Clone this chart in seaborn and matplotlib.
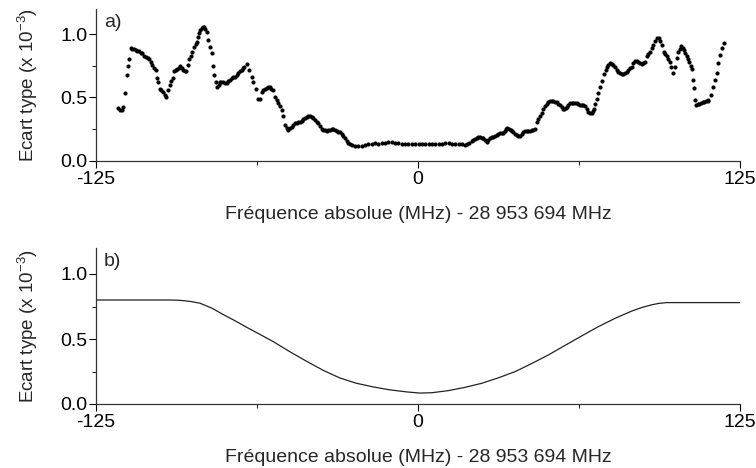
import numpy as np
import pandas as pd
import matplotlib
matplotlib.use("Agg")
import matplotlib.pyplot as plt
import seaborn as sns
from matplotlib.ticker import MultipleLocator

# ---------------- data ----------------
# panel a) measured standard deviation (x 1e-3) vs absolute frequency offset (MHz)
freq_a = [
    -116.3, -115.6, -115.0, -114.4, -113.7, -113.1, -112.7, -112.1, -111.5,
    -110.9, -110.2, -109.5, -108.9, -108.2, -107.6, -107.0, -106.3, -105.7, -105.0,
    -104.4, -103.8, -103.1, -102.5, -101.9, -101.2, -100.8, -100.2, -99.6, -98.9,
    -98.3, -97.8, -96.9, -96.3, -95.7, -95.2, -94.7, -94.1, -93.5, -92.9, -92.4,
    -91.7, -91.1, -90.5, -90.1, -89.4, -88.8, -88.2, -87.6, -86.8, -86.3, -85.9,
    -85.4, -85.0, -84.5, -84.0, -83.5, -83.0, -82.5, -82.0, -81.4, -80.7, -80.1,
    -79.7, -79.2, -78.4, -77.9, -77.4, -76.9, -76.3, -75.6, -74.9, -74.3, -73.6,
    -73.0, -72.3, -71.7, -71.0, -70.4, -69.7, -69.1, -68.5, -67.9, -67.5, -66.5,
    -65.5, -64.6, -63.9, -62.9, -62.0, -61.3, -60.7, -60.1, -59.4, -58.8, -58.1,
    -57.5, -56.9, -56.4, -55.5, -54.8, -54.2, -53.5, -52.9, -52.3, -51.6, -50.9,
    -50.3, -49.6, -49.0, -48.4, -47.7, -47.1, -46.4, -45.8, -45.2, -44.5, -43.9,
    -43.2, -42.6, -41.9, -41.3, -40.6, -40.0, -39.3, -38.7, -38.0, -37.4, -36.7,
    -36.1, -35.4, -34.8, -34.1, -33.5, -32.9, -32.2, -31.6, -30.9, -30.3, -29.6,
    -29.0, -28.4, -27.7, -27.0, -26.4, -25.7, -24.4, -23.2, -21.9, -20.6, -19.3,
    -18.0, -16.7, -15.4, -14.1, -12.8, -11.5, -10.2, -8.9, -7.6, -6.3, -5.0, -3.7,
    -2.4, -1.1, 0.2, 1.5, 2.8, 4.1, 5.4, 6.7, 8.0, 9.3, 10.6, 11.9, 13.2, 14.5,
    15.8, 17.1, 18.4, 19.1, 19.8, 20.8, 21.5, 22.1, 22.8, 23.4, 24.1, 24.7, 25.4,
    26.0, 26.7, 27.3, 28.0, 28.6, 29.3, 29.9, 30.6, 31.2, 31.8, 32.5, 33.1, 33.7,
    34.2, 34.7, 35.4, 36.0, 36.4, 37.0, 37.7, 38.3, 39.0, 39.6, 40.2, 40.9, 41.5,
    42.2, 42.8, 43.5, 44.1, 44.8, 45.4, 46.1, 46.7, 47.4, 48.0, 48.6, 49.3, 50.0,
    50.6, 51.2, 51.9, 52.5, 53.2, 53.8, 54.5, 55.1, 55.8, 56.4, 56.8, 57.3, 57.7,
    58.4, 59.0, 59.7, 60.3, 61.0, 61.6, 62.3, 62.9, 63.6, 64.2, 64.8, 65.5, 66.1,
    66.8, 67.4, 67.9, 68.3, 68.9, 69.4, 70.0, 70.6, 71.3, 72.2, 72.8, 73.3, 73.9,
    74.5, 75.2, 75.8, 76.5, 77.1, 77.8, 78.4, 79.1, 79.7, 80.4, 81.0, 81.6, 82.3,
    82.9, 83.6, 84.2, 84.9, 85.5, 86.2, 86.8, 87.5, 88.1, 88.8, 89.4, 90.1, 90.8,
    91.4, 92.1, 92.7, 93.4, 94.0, 94.6, 95.5, 96.0, 96.6, 97.2, 97.8, 98.4, 99.1,
    99.8, 100.4, 101.1, 101.6, 102.1, 102.7, 103.3, 103.8, 104.3, 104.8, 105.3,
    105.8, 106.3, 106.7, 107.1, 107.5, 107.9, 108.6, 109.2, 109.9, 110.5, 111.1,
    111.8, 112.4, 112.7, 113.6, 114.6, 115.3, 116.0, 116.6, 117.3, 117.9, 118.6,
]
sigma_a = [
    0.414, 0.400, 0.400, 0.427, 0.533, 0.680, 0.745, 0.800, 0.890,
    0.885, 0.880, 0.875, 0.870, 0.865, 0.855, 0.850, 0.830, 0.820, 0.810,
    0.800, 0.780, 0.760, 0.735, 0.715, 0.650, 0.625, 0.570, 0.560, 0.546,
    0.520, 0.500, 0.560, 0.600, 0.630, 0.650, 0.705, 0.715, 0.725, 0.735, 0.745,
    0.735, 0.720, 0.710, 0.705, 0.760, 0.800, 0.830, 0.860, 0.900, 0.925, 0.940,
    0.980, 1.010, 1.030, 1.050, 1.055, 1.060, 1.040, 1.020, 0.956, 0.900, 0.850,
    0.745, 0.680, 0.625, 0.580, 0.600, 0.620, 0.625, 0.620, 0.610, 0.615, 0.630,
    0.640, 0.650, 0.660, 0.665, 0.680, 0.695, 0.705, 0.720, 0.730, 0.740, 0.766,
    0.720, 0.665, 0.625, 0.570, 0.486, 0.490, 0.546, 0.560, 0.570, 0.575, 0.580,
    0.580, 0.570, 0.560, 0.506, 0.480, 0.454, 0.430, 0.400, 0.353, 0.280, 0.260,
    0.242, 0.255, 0.268, 0.280, 0.295, 0.300, 0.305, 0.308, 0.315, 0.325, 0.335,
    0.345, 0.353, 0.350, 0.342, 0.335, 0.320, 0.305, 0.295, 0.270, 0.248, 0.242,
    0.240, 0.237, 0.240, 0.245, 0.248, 0.248, 0.240, 0.235, 0.229, 0.225, 0.210,
    0.194, 0.175, 0.157, 0.140, 0.128, 0.123, 0.118, 0.115, 0.117, 0.122, 0.127,
    0.132, 0.135, 0.134, 0.136, 0.139, 0.145, 0.146, 0.140, 0.136, 0.132, 0.128, 0.127,
    0.131, 0.133, 0.131, 0.132, 0.130, 0.131, 0.131, 0.130, 0.131, 0.133, 0.139, 0.140, 0.133, 0.131,
    0.132, 0.128, 0.124, 0.128, 0.140, 0.157, 0.165, 0.172, 0.180, 0.184, 0.185, 0.182, 0.176,
    0.165, 0.149, 0.160, 0.175, 0.184, 0.190, 0.198, 0.205, 0.210, 0.215, 0.218, 0.220, 0.235,
    0.250, 0.255, 0.250, 0.240, 0.237, 0.225, 0.212, 0.202, 0.197, 0.194, 0.210, 0.229, 0.232,
    0.234, 0.235, 0.237, 0.240, 0.244, 0.248, 0.308, 0.330, 0.353, 0.380, 0.406, 0.430, 0.448,
    0.462, 0.475, 0.475, 0.470, 0.467, 0.460, 0.450, 0.440, 0.425, 0.410, 0.406, 0.415, 0.427,
    0.440, 0.452, 0.459, 0.458, 0.456, 0.454, 0.450, 0.440, 0.440, 0.440, 0.430, 0.405, 0.387,
    0.380, 0.375, 0.390, 0.406, 0.450, 0.486, 0.533, 0.586, 0.633, 0.686, 0.715, 0.740, 0.755,
    0.771, 0.765, 0.758, 0.740, 0.718, 0.700, 0.690, 0.686, 0.688, 0.692, 0.700, 0.713, 0.730,
    0.744, 0.770, 0.792, 0.790, 0.784, 0.775, 0.766, 0.772, 0.784, 0.824, 0.845, 0.863, 0.890,
    0.917, 0.945, 0.970, 0.970, 0.945, 0.917, 0.863, 0.845, 0.824, 0.800, 0.784, 0.740, 0.692,
    0.744, 0.811, 0.863, 0.885, 0.903, 0.890, 0.877, 0.850, 0.824, 0.800, 0.784,
    0.750, 0.724, 0.639, 0.573, 0.480, 0.440, 0.445, 0.450, 0.455, 0.460, 0.465,
    0.470, 0.475, 0.480, 0.520, 0.580, 0.639, 0.692, 0.771, 0.837, 0.890, 0.930,
]

# panel b) model standard deviation profile
freq_b = [-125, -110, -97, -94, -91, -88, -84.6, -80.0, -75.6, -71.0, -66.5, -61.5, -56.2,
          -50.0, -43.2, -36.5, -30.3, -24.0, -17.3, -11.0, -4.4, 0.8, 5.5, 11.8,
          18.0, 24.7, 31.0, 37.7, 44.0, 50.6, 57.0, 63.5, 70.0, 76.5, 83.0, 87.0, 90.5,
          93.5, 96.5, 110, 125]
sigma_b = [0.800, 0.800, 0.800, 0.799, 0.795, 0.788, 0.775, 0.737, 0.688, 0.640, 0.590, 0.537, 0.480,
           0.405, 0.328, 0.256, 0.200, 0.160, 0.131, 0.109, 0.093, 0.084, 0.087, 0.103,
           0.127, 0.159, 0.200, 0.249, 0.310, 0.377, 0.450, 0.523, 0.595, 0.659, 0.715, 0.743, 0.762,
           0.774, 0.780, 0.780, 0.780]

xticks = [-125, 0, 125]
xtick_labels = ["-125", "0", "125"]
yticks = [0.0, 0.5, 1.0]
ytick_labels = ["0.0", "0.5", "1.0"]
xlabel = "Fréquence absolue (MHz) - 28 953 694 MHz"
ylabel = "Ecart type (x 10$^{-3}$)"
panel_labels = ["a)", "b)"]

# ---------------- figure ----------------
sns.set_theme(style="ticks")
plt.rcParams["font.family"] = ["Liberation Sans", "DejaVu Sans"]
plt.rcParams["mathtext.default"] = "regular"

W, H = 756, 468
fig = plt.figure(figsize=(W / 100, H / 100), dpi=100)
ax_a = fig.add_axes([96 / W, 1 - 160.5 / H, 644 / W, 151.5 / H])
ax_b = fig.add_axes([96 / W, 1 - 404 / H, 644 / W, 156 / H])

df_a = pd.DataFrame({"f": freq_a, "s": sigma_a})
df_b = pd.DataFrame({"f": freq_b, "s": sigma_b})

sns.scatterplot(data=df_a, x="f", y="s", ax=ax_a, color="black", s=9,
                linewidth=0, marker="o", legend=False)
sns.lineplot(data=df_b, x="f", y="s", ax=ax_b, color="#222222", linewidth=0.9,
             legend=False)

for ax, lab in zip([ax_a, ax_b], panel_labels):
    ax.set_xlim(-125, 125)
    ax.set_ylim(0, 1.2)
    ax.set_xticks(xticks)
    ax.set_xticklabels(xtick_labels)
    ax.set_yticks(yticks)
    ax.set_yticklabels(ytick_labels)
    ax.xaxis.set_minor_locator(MultipleLocator(62.5))
    ax.yaxis.set_minor_locator(MultipleLocator(0.25))
    ax.tick_params(axis="both", which="major", direction="out", length=5,
                   width=0.8, labelsize=14, colors="black", pad=1)
    ax.tick_params(axis="x", which="major", pad=2.5)
    ax.tick_params(axis="both", which="minor", direction="out", length=3,
                   width=0.8)
    for side in ["top", "right"]:
        ax.spines[side].set_visible(False)
    for side in ["left", "bottom"]:
        ax.spines[side].set_color("#333333")
        ax.spines[side].set_linewidth(0.9)
    ax.set_xlabel(xlabel, fontsize=14, labelpad=13)
    ax.set_ylabel(ylabel, fontsize=13.5, labelpad=15)
    ax.text(0.012, 0.97, lab, transform=ax.transAxes, fontsize=14,
            ha="left", va="top")
    ax.set_facecolor("white")

fig.savefig("out.png", dpi=100, facecolor="white")
